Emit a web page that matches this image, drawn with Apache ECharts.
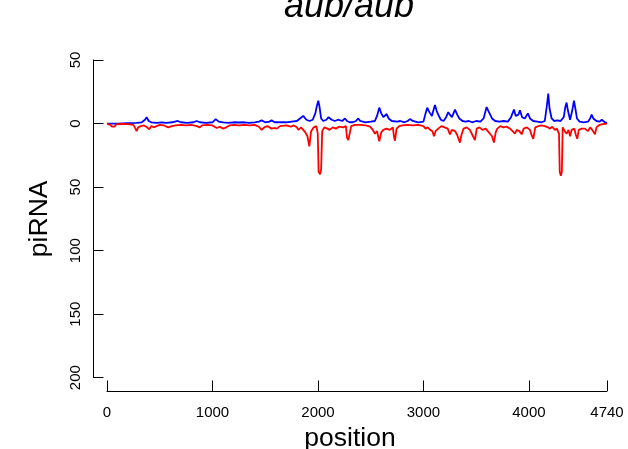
<!DOCTYPE html>
<html>
<head>
<meta charset="utf-8">
<script src="https://cdn.jsdelivr.net/npm/echarts@6/dist/echarts.min.js"></script>
<style>html,body{margin:0;padding:0;background:#fff}#c{width:628px;height:449px}</style>
</head>
<body>
<div id="c"></div>
<script>
// ---- data ----
const titleText = 'aub/aub';
const xTicks = [0, 1000, 2000, 3000, 4000, 4740];
const yTicks = [50, 0, -50, -100, -150, -200];

// sense reads (blue, plotted upward): [position, count]
const sensePos = [0,100,200,280,330,360,376,395,420,470,520,560,620,670,700,760,820,850,880,940,1000,1030,1060,1100,1150,1200,1250,1300,1350,1400,1440,1466,1500,1540,1560,1590,1640,1700,1750,1800,1830,1860,1890,1920,1950,1975,1990,2003,2015,2030,2050,2080,2100,2114,2130,2160,2190,2230,2256,2275,2300,2330,2360,2382,2400,2450,2500,2540,2560,2581,2600,2620,2651,2670,2700,2750,2780,2820,2850,2872,2900,2950,3000,3020,3036,3050,3064,3080,3100,3109,3125,3140,3165,3190,3215,3235,3250,3270,3299,3320,3340,3370,3400,3430,3460,3500,3540,3570,3599,3615,3630,3650,3680,3720,3760,3800,3830,3858,3875,3900,3915,3935,3960,3990,4010,4040,4080,4120,4150,4170,4183,4195,4215,4240,4270,4300,4330,4345,4357,4370,4390,4410,4427,4440,4455,4480,4520,4560,4580,4594,4610,4640,4670,4690,4705,4720,4740];
const senseVal = [0,0,0.3,0.5,1,3,5,2,1,0.5,1,0.5,1,2,1,0.5,1,2,1,0.5,1,3.5,1.5,1,0.5,1,0.8,1,0.5,1,1.5,2.5,1,1.5,2.5,1,1,1,1.5,2,4,6,3,2,3,8,14,18,13,4,2,3,5,6,3,2,3,2,4,2,1,1,2,4,2,1,1.5,2,6,12.5,8,5,7.5,4,2,1.5,2,1,2,3.5,2,1,1.5,8,12.5,10,8,6,12,14.5,10,7,3,2,5,9,7,5,11,7,4,2,1.5,2,1,2,1.5,4,13,10,8.5,4,2,1.5,2,1.5,5,11,6,7,10.5,5,4,8,4,2,1.5,1,2,14,23.5,12,4,2,2.5,2,5,13,16.5,10,3,10,18,12,4,1.5,1,1.5,4,7,4,2,1.5,3,4.5,1,0.5];

// antisense reads (red, plotted downward): [position, -count]
const antiPos = [0,30,50,70,90,150,200,250,270,281,295,320,350,380,400,420,450,470,500,540,580,597,615,650,700,750,800,850,880,900,950,1000,1040,1070,1100,1130,1160,1200,1250,1300,1350,1400,1440,1466,1490,1520,1560,1590,1610,1640,1700,1740,1770,1800,1814,1840,1860,1880,1900,1918,1935,1960,1985,1998,2006,2020,2030,2040,2060,2090,2110,2140,2170,2200,2240,2265,2275,2288,2305,2315,2350,2400,2450,2480,2500,2520,2540,2560,2581,2600,2620,2650,2680,2710,2720,2730,2745,2770,2800,2850,2900,2950,3000,3020,3040,3064,3085,3100,3115,3140,3170,3200,3230,3251,3270,3300,3320,3346,3360,3380,3410,3440,3470,3488,3505,3530,3560,3590,3610,3630,3650,3668,3685,3700,3730,3760,3790,3820,3845,3867,3885,3910,3931,3950,3980,4010,4025,4041,4060,4090,4120,4150,4180,4199,4220,4246,4265,4285,4292,4302,4312,4320,4340,4357,4375,4390,4405,4430,4445,4458,4472,4500,4530,4560,4580,4600,4626,4640,4670,4700,4740];
const antiVal = [0,-1,-2.5,-2.5,-0.5,-0.3,-0.5,-1,-4,-6,-3,-2,-1.5,-3,-4.5,-2,-3,-2,-1,-1.5,-3,-4.5,-2,-1.5,-1,-1.5,-1,-2,-3,-1.5,-1,-1.5,-3.5,-2.5,-4,-3,-1.5,-1,-1.5,-1,-1.5,-1,-2.5,-5,-3,-2,-4,-3.5,-4,-2,-1.5,-2.5,-1.5,-3,-5,-3,-5,-7,-10,-18,-6,-3,-2,-8,-38,-40,-36,-6,-3,-4,-5,-3,-4,-2.5,-3,-2,-11,-13,-12,-2,-1,-1,-1.5,-2,-3,-5,-8,-6,-14,-7,-5,-4,-5,-3,-10,-13.5,-4,-2,-1.5,-1,-1.5,-1,-2,-4,-3,-5,-6,-10,-6,-4,-2,-3,-4,-8.5,-5,-6,-9,-15,-9,-4,-3,-5,-10,-13,-4,-3,-5,-4,-6,-8,-10,-15,-7,-4,-2,-3,-2.5,-4,-6,-8,-5,-6,-8.5,-4,-3,-5,-9,-12,-3,-2,-1.5,-2,-3,-4,-2.5,-5,-4,-8,-38,-41,-38,-3,-6,-8,-5,-10,-5,-4,-9,-12,-5,-4,-4,-6,-3,-5,-8.5,-3,-1,-0.5,0];

const pair = (xs, ys) => xs.map((x, i) => [x, ys[i]]);
const FONT = "'Liberation Sans', Arial, Helvetica, sans-serif";

const chart = echarts.init(document.getElementById('c'), null, {renderer: 'canvas'});
chart.setOption({
  animation: false,
  backgroundColor: '#ffffff',
  title: {
    text: titleText,
    left: 344, top: -16,
    textAlign: 'center',
    textStyle: {fontFamily: FONT, fontStyle: 'italic', fontWeight: 'normal', fontSize: 36, color: '#000'}
  },
  grid: {left: 107, right: 21, top: 60, bottom: 71.3, containLabel: false, outerBoundsMode: 'none'},
  xAxis: {
    type: 'value', min: 0, max: 4740,
    offset: 13.3,
    splitLine: {show: false},
    axisLine: {show: true, onZero: false, lineStyle: {color: '#000', width: 1}},
    axisTick: {show: true, inside: true, length: 10.5, customValues: xTicks, lineStyle: {color: '#000', width: 1}},
    axisLabel: {customValues: xTicks, margin: 14, fontFamily: FONT, fontSize: 15, color: '#000',
      formatter: v => String(v)},
    name: 'position', nameLocation: 'middle', nameGap: 32,
    nameTextStyle: {fontFamily: FONT, fontSize: 26.5, color: '#000', padding: [0, 14, 0, 0]}
  },
  yAxis: {
    type: 'value', min: -200, max: 50, interval: 50,
    offset: 14,
    splitLine: {show: false},
    axisLine: {show: true, onZero: false, lineStyle: {color: '#000', width: 1}},
    axisTick: {show: true, inside: true, length: 10.5, lineStyle: {color: '#000', width: 1}},
    axisLabel: {rotate: 90, margin: 10, fontFamily: FONT, fontSize: 15, color: '#000',
      formatter: v => String(Math.abs(v))},
    name: 'piRNA', nameLocation: 'middle', nameGap: 40,
    nameTextStyle: {fontFamily: FONT, fontSize: 26.5, color: '#000'}
  },
  series: [
    {type: 'line', data: pair(sensePos, senseVal), showSymbol: false, symbol: 'none',
     lineStyle: {color: '#0000ff', width: 1.8}, itemStyle: {color: '#0000ff'}},
    {type: 'line', data: pair(antiPos, antiVal), showSymbol: false, symbol: 'none',
     lineStyle: {color: '#ff0000', width: 1.8}, itemStyle: {color: '#ff0000'}}
  ]
});
</script>
</body>
</html>
